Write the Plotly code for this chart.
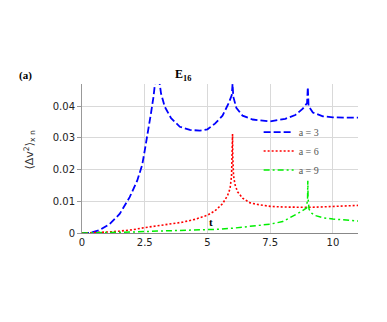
import plotly.graph_objects as go

# a = 3
t_a3 = [0, 0.3, 0.7, 1.1, 1.5, 1.9, 2.2, 2.4, 2.5, 2.65, 2.75, 2.85, 2.92, 3.0, 3.08, 3.15, 3.3, 3.55, 3.9,
        4.3, 4.7, 5.0, 5.3, 5.6, 5.85, 5.97, 6.0, 6.03, 6.15, 6.4, 6.8, 7.5, 8.1, 8.5, 8.8, 8.97, 9.0, 9.03,
        9.2, 9.6, 10.0, 10.5, 11.0]
v_a3 = [0, 0, 0.0009, 0.0028, 0.006, 0.0113, 0.0165, 0.0215, 0.026, 0.0325, 0.0378, 0.043, 0.048, 0.07,
        0.048, 0.044, 0.0398, 0.0362, 0.0335, 0.0325, 0.0323, 0.0327, 0.0345, 0.037, 0.041, 0.0435, 0.047,
        0.043, 0.0395, 0.037, 0.0358, 0.0352, 0.036, 0.0372, 0.0392, 0.041, 0.046, 0.040, 0.038, 0.0368,
        0.0365, 0.0364, 0.0364]

# a = 6
t_a6 = [0, 0.5, 1.0, 1.5, 2.0, 2.5, 3.0, 3.5, 4.0, 4.5, 5.0, 5.3, 5.6, 5.8, 5.9, 5.96, 5.99, 6.0, 6.01,
        6.04, 6.1, 6.2, 6.4, 6.7, 7.0, 7.5, 8.0, 8.5, 9.0, 9.5, 10, 10.5, 11]
v_a6 = [0, 0.0001, 0.0003, 0.0006, 0.001, 0.0017, 0.0023, 0.0028, 0.0034, 0.0043, 0.0056, 0.007, 0.0092,
        0.0118, 0.014, 0.018, 0.024, 0.0312, 0.024, 0.018, 0.0152, 0.013, 0.011, 0.0095, 0.009, 0.0084,
        0.0082, 0.0081, 0.0081, 0.0082, 0.0083, 0.0085, 0.0087]

# a = 9
t_a9 = [0, 1, 2, 3, 4, 5, 5.5, 6, 6.5, 7, 7.5, 8, 8.4, 8.7, 8.85, 8.95, 8.99, 9.0, 9.01, 9.05, 9.15, 9.3,
        9.6, 10, 10.5, 11]
v_a9 = [0, 0.0001, 0.0003, 0.0006, 0.0008, 0.001, 0.0012, 0.0015, 0.0019, 0.0023, 0.0028, 0.0036, 0.0052,
        0.0066, 0.0074, 0.0079, 0.011, 0.0165, 0.011, 0.0075, 0.0063, 0.0055, 0.0048, 0.0044, 0.0041, 0.0038]

x_ticks = [0, 2.5, 5, 7.5, 10]
x_ticktext = ["0", "2.5", "5", "7.5", "10"]
y_ticks = [0, 0.01, 0.02, 0.03, 0.04]
y_ticktext = ["0", "0.01", "0.02", "0.03", "0.04"]

serif = "Liberation Serif, DejaVu Serif, serif"

fig = go.Figure()
fig.add_trace(go.Scatter(x=t_a3, y=v_a3, mode="lines", name="a = 3",
                         line=dict(color="#0000ff", width=1.8, dash="7px,3px")))
fig.add_trace(go.Scatter(x=t_a6, y=v_a6, mode="lines", name="a = 6",
                         line=dict(color="#ff0000", width=1.6, dash="2px,2px")))
fig.add_trace(go.Scatter(x=t_a9, y=v_a9, mode="lines", name="a = 9",
                         line=dict(color="#00ee00", width=1.5, dash="6px,3px,2px,3px")))

# page is offset by the 8px body margin, so margins are shifted to compensate
fig.update_layout(
    width=387, height=322,
    margin=dict(l=74, r=37, t=76, b=97),
    plot_bgcolor="white", paper_bgcolor="white",
    showlegend=True,
    legend=dict(x=0.64, y=0.55, xanchor="left", yanchor="middle",
                bgcolor="rgba(0,0,0,0)", font=dict(family=serif, size=10, color="#555"),
                itemwidth=30, tracegroupgap=0),
    annotations=[
        dict(text="<b>(a)</b>", x=-0.203, y=1.06, xref="paper", yref="paper",
             xanchor="center", yanchor="middle", showarrow=False,
             font=dict(family=serif, size=11, color="black")),
        dict(text="<b>E<sub>16</sub></b>", x=0.366, y=1.06, xref="paper", yref="paper",
             xanchor="center", yanchor="middle", showarrow=False,
             font=dict(family=serif, size=12, color="black")),
        dict(text="⟨Δv<sup>2</sup>⟩<sub>x n</sub>", x=-0.19, y=0.557, xref="paper", yref="paper",
             xanchor="center", yanchor="middle", textangle=-90, showarrow=False,
             font=dict(family="DejaVu Sans", size=11, color="#333")),
        dict(text="<b>t</b>", x=0.467, y=0.074, xref="paper", yref="paper",
             xanchor="center", yanchor="middle", showarrow=False,
             font=dict(family=serif, size=11, color="black")),
    ],
)

fig.update_xaxes(range=[0, 11], tickvals=x_ticks, ticktext=x_ticktext,
                 showgrid=True, gridcolor="#d9d9d9", gridwidth=1,
                 zeroline=False, showline=True, linecolor="#888", ticks="",
                 tickfont=dict(family="DejaVu Sans", size=10, color="#222"))
fig.update_yaxes(range=[0, 0.047], tickvals=y_ticks, ticktext=y_ticktext,
                 showgrid=True, gridcolor="#d9d9d9", gridwidth=1,
                 zeroline=False, showline=True, linecolor="#999",
                 ticks="outside", ticklen=4, tickcolor="#999",
                 tickfont=dict(family="DejaVu Sans", size=10, color="#222"))

fig.write_html("out.html")
